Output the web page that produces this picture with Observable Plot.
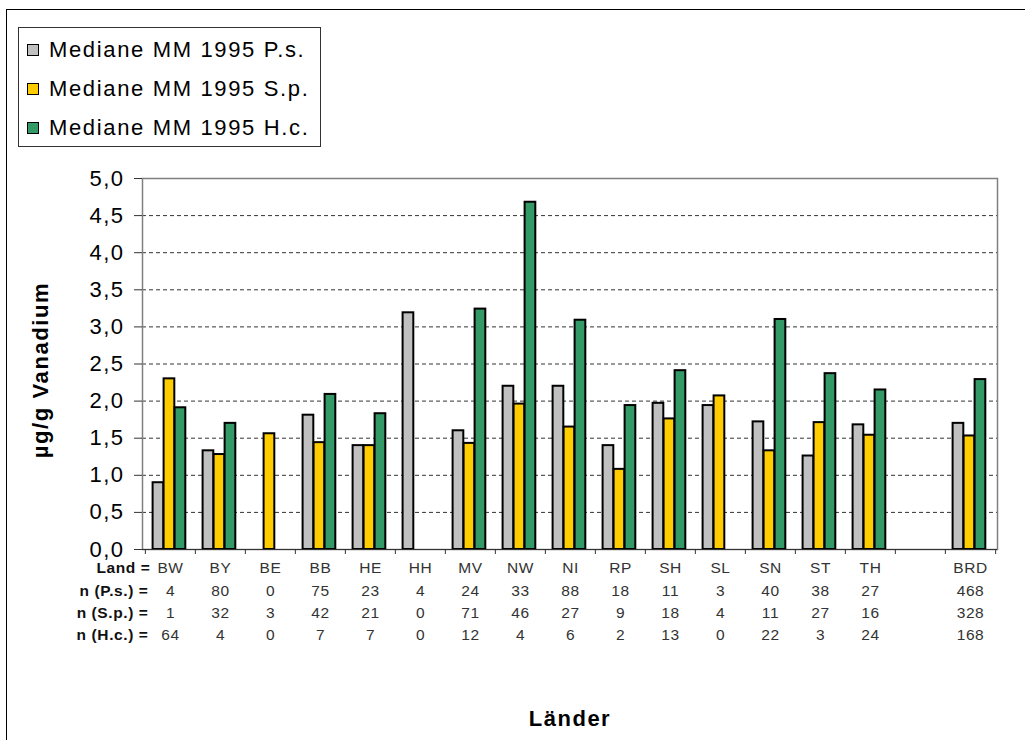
<!DOCTYPE html>
<html><head><meta charset="utf-8">
<script src="https://cdn.jsdelivr.net/npm/d3@7"></script>
<script src="https://cdn.jsdelivr.net/npm/@observablehq/plot@0.6"></script>
<style>
body{margin:0;background:#fff;font-family:"Liberation Sans",Arial,sans-serif;}
#wrap{position:relative;width:1025px;height:740px;overflow:hidden;background:#fff;}
#border{position:absolute;left:6px;top:9px;width:1100px;height:800px;border:1.5px solid #000;}
#chart{position:absolute;left:0;top:0;}
#legend{position:absolute;left:18px;top:27px;width:301px;height:118px;border:1px solid #333;background:#fff;}
.item{position:absolute;left:8px;height:24px;display:flex;align-items:center;font-size:22px;letter-spacing:1.65px;color:#000;white-space:nowrap;}
.sw{width:10px;height:10px;border:1.5px solid #000;margin-right:10px;flex:none;}
#ylab{position:absolute;left:41px;top:370px;transform:translate(-50%,-50%) rotate(-90deg);white-space:nowrap;font-weight:bold;font-size:22px;letter-spacing:1.6px;color:#000;}
</style></head>
<body><div id="wrap"><div id="border"></div><div id="chart"></div><div id="ylab"></div><div id="legend"></div></div>
<script>
const lands = ["BW","BY","BE","BB","HE","HH","MV","NW","NI","RP","SH","SL","SN","ST","TH","","BRD"];
const seriesNames = ["Mediane MM 1995 P.s.","Mediane MM 1995 S.p.","Mediane MM 1995 H.c."];
const seriesColors = ["#C0C0C0","#FFCC00","#339966"];
const valuesPs = [0.9,1.33,null,1.81,1.4,3.19,1.6,2.2,2.2,1.4,1.97,1.94,1.72,1.26,1.68,null,1.7];
const valuesSp = [2.3,1.28,1.56,1.44,1.4,null,1.43,1.96,1.65,1.08,1.76,2.07,1.33,1.71,1.54,null,1.53];
const valuesHc = [1.91,1.7,null,2.09,1.83,null,3.24,4.68,3.09,1.94,2.41,null,3.1,2.37,2.15,null,2.29];
const nPs = [4,80,0,75,23,4,24,33,88,18,11,3,40,38,27,null,468];
const nSp = [1,32,3,42,21,0,71,46,27,9,18,4,11,27,16,null,328];
const nHc = [64,4,0,7,7,0,12,4,6,2,13,0,22,3,24,null,168];
const rowLabels = ["Land =","n (P.s.) =","n (S.p.) =","n (H.c.) ="];
const yTicks = [0,0.5,1,1.5,2,2.5,3,3.5,4,4.5,5];
const yLabel = "µg/g Vanadium";
const xLabel = "Länder";

const W = 1025, H = 740, mL = 142, mR = 28, mT = 178, mB = 191;
const band = (W - mL - mR) / lands.length;
const plotH = H - mT - mB;

const series = [valuesPs, valuesSp, valuesHc];
const barW = 11, groupLeft = 7.6;
const barMarks = series.map((vals, s) => Plot.barY(
  lands.map((l, i) => ({land: l, v: vals[i]})).filter(d => d.v != null),
  {x: "land", y: "v", fill: seriesColors[s], stroke: "#000", strokeWidth: 2,
   insetLeft: groupLeft + s * barW, insetRight: band - groupLeft - (s + 1) * barW}
));

const rows = [lands, nPs, nSp, nHc];
const rowDy = [23.5, 46, 68.5, 90.5];
const tableMarks = rows.flatMap((vals, r) => [
  Plot.text(lands.map((l, i) => ({land: l, t: vals[i] == null ? "" : String(vals[i])})),
    {x: "land", text: "t", frameAnchor: "bottom", dy: rowDy[r], fontSize: 15.5, fill: "#333"}),
  Plot.text([rowLabels[r]], {frameAnchor: "bottom-left", dx: r === 0 ? 8 : 6, dy: rowDy[r], textAnchor: "end",
    fontSize: 15.5, fontWeight: "bold", fill: "#111"})
]);

const fmt = d => d.toFixed(1).replace(".", ",");

const plot = Plot.plot({
  width: W, height: H,
  marginLeft: mL, marginRight: mR, marginTop: mT, marginBottom: mB,
  style: {background: "transparent", fontFamily: "'Liberation Sans', Arial, sans-serif", color: "#000"},
  x: {domain: lands, padding: 0, axis: null},
  y: {domain: [0, 5], axis: null},
  marks: [
    Plot.ruleY(yTicks.filter(t => t > 0 && t < 5), {stroke: "#333", strokeDasharray: "4,3", strokeWidth: 1}),
    Plot.frame({stroke: "#808080", strokeWidth: 1.5}),
    Plot.axisY({ticks: yTicks, tickSize: 8, tickPadding: 10, fontSize: 22, tickFormat: fmt, label: null, stroke: "#333"}),
    ...barMarks,
    Plot.ruleY([0], {stroke: "#333", strokeWidth: 1.2}),
    Plot.ruleX(lands, {x: d => d, dx: -band / 2, insetTop: plotH, insetBottom: -5, stroke: "#333"}),
    Plot.ruleX([lands[lands.length - 1]], {x: d => d, dx: band / 2, insetTop: plotH, insetBottom: -5, stroke: "#333"}),
    ...tableMarks,
    Plot.text([xLabel], {frameAnchor: "bottom", dy: 176, fontSize: 22, fontWeight: "bold", fill: "#000"})
  ]
});
document.getElementById("chart").appendChild(plot);
plot.querySelectorAll("g[aria-label='y-axis tick label'], g[aria-label='text']").forEach(g => {
  const fs = parseFloat(g.getAttribute("font-size") || 0);
  g.setAttribute("letter-spacing", fs > 18 ? "1.5" : "0.6");
});
document.getElementById("ylab").textContent = yLabel;

const legend = document.getElementById("legend");
seriesNames.forEach((name, i) => {
  const it = document.createElement("div");
  it.className = "item";
  it.style.top = (10 + i * 39) + "px";
  const sw = document.createElement("div");
  sw.className = "sw"; sw.style.background = seriesColors[i];
  it.appendChild(sw);
  it.appendChild(document.createTextNode(name));
  legend.appendChild(it);
});
</script></body></html>
